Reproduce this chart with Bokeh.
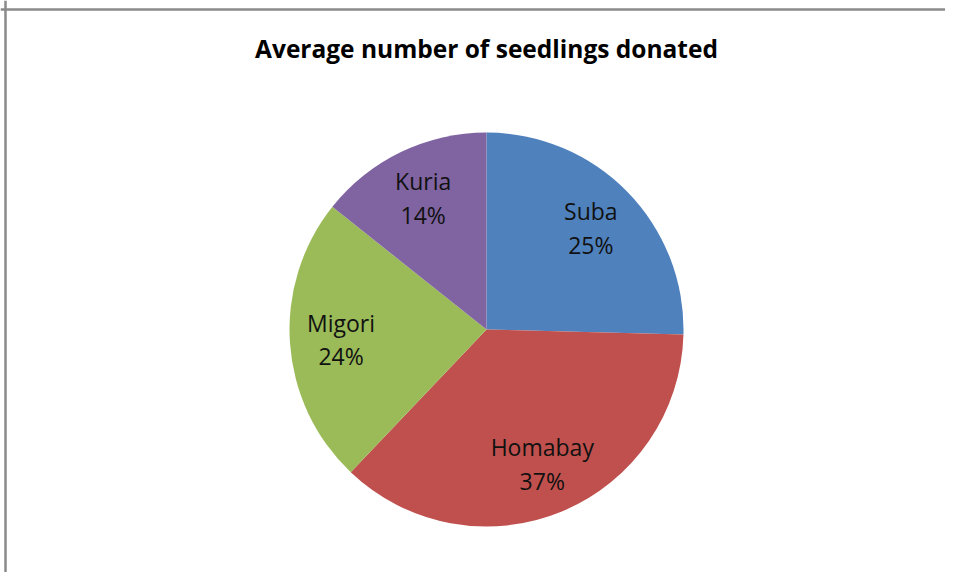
import math
from bokeh.plotting import figure
from bokeh.models import Range1d, ColumnDataSource, Span
from bokeh.core.properties import value
from bokeh.embed import file_html
from bokeh.resources import INLINE

# ---- data ----
title_text = "Average number of seedlings donated"
regions = ["Suba", "Homabay", "Migori", "Kuria"]
shares = [25.4, 36.7, 23.6, 14.3]
colors = ["#4F81BD", "#C0504D", "#9BBB59", "#8064A2"]

# ---- layout ----
W, H = 945, 572
CX, CY = 486, 329          # pie centre in canvas pixels (from left / top)
R = 197
LABEL_R = 0.74 * R

total = sum(shares)
starts, ends, lx, ly, labels = [], [], [], [], []
cum = 0.0
for name, s in zip(regions, shares):
    a0 = math.pi / 2 - 2 * math.pi * cum / total
    a1 = math.pi / 2 - 2 * math.pi * (cum + s) / total
    starts.append(a0)
    ends.append(a1)
    mid = (a0 + a1) / 2
    lx.append(LABEL_R * math.cos(mid))
    ly.append(LABEL_R * math.sin(mid))
    labels.append(f"{name}\n{round(s / total * 100)}%")
    cum += s

src = ColumnDataSource(dict(start=starts, end=ends, color=colors,
                            lx=lx, ly=ly, label=labels))

p = figure(width=W, height=H, output_backend="svg", toolbar_location=None,
           x_range=Range1d(-CX, W - CX), y_range=Range1d(-(H - CY), CY),
           x_axis_type=None, y_axis_type=None, min_border=0,
           background_fill_color="white", border_fill_color="white")
p.grid.visible = False
p.outline_line_color = None

p.wedge(x=0, y=0, radius=R, start_angle="start", end_angle="end",
        direction="clock", fill_color="color", line_color=None, source=src)

p.text(x="lx", y="ly", text="label", source=src,
       text_font=value("Open Sans"), text_font_size="23px", text_color="#111111",
       text_align="center", text_baseline="middle", text_line_height=1.05)

p.text(x=[0], y=[CY - 48], text=[title_text],
       text_font=value("Open Sans"), text_font_size="24.5px", text_font_style="bold",
       text_color="#000000", text_align="center", text_baseline="middle")

# chart-area border (left and top edges visible in the reference)
p.add_layout(Span(location=-CX + 5, dimension="height", line_color="#8a8a8a", line_width=2.5))
p.add_layout(Span(location=CY - 9, dimension="width", line_color="#8a8a8a", line_width=2.5))

open("out.html", "w").write(file_html(p, INLINE))
